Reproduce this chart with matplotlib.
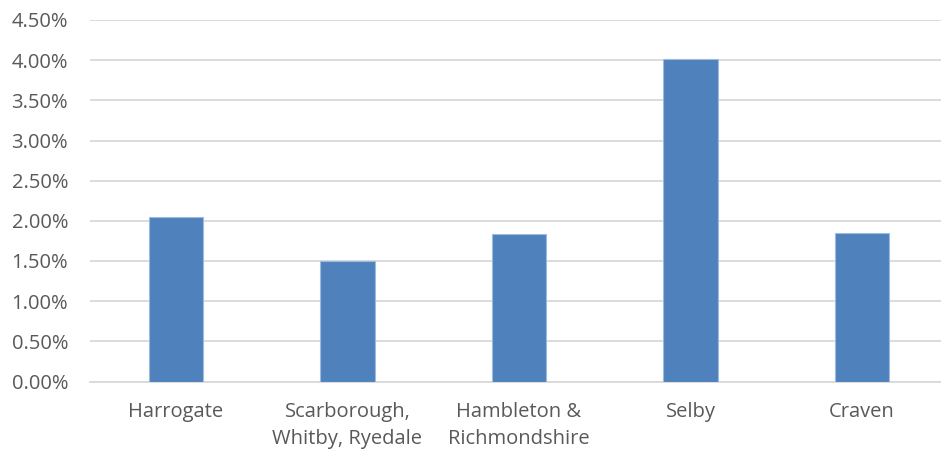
import matplotlib
matplotlib.use('Agg')
import matplotlib.pyplot as plt
from matplotlib.ticker import FuncFormatter, MultipleLocator

plt.rcParams['font.family'] = ['Open Sans', 'DejaVu Sans']

areas = ['Harrogate', 'Scarborough,\nWhitby, Ryedale', 'Hambleton &\nRichmondshire', 'Selby', 'Craven']
rates = [0.0205, 0.0150, 0.0183, 0.0401, 0.0185]

fig = plt.figure(figsize=(9.41, 4.54), dpi=100)
# plot area runs off the right edge of the canvas
ax = fig.add_axes([90.25 / 941, 1 - 381.5 / 454, 857.5 / 941, 361.5 / 454])

x = range(len(areas))
ax.bar(x, rates, width=0.315, color='#4f81bd', edgecolor='#9dbbe0', linewidth=0.8, zorder=3)

ax.set_ylim(0, 0.045)
ax.set_xlim(-0.5, len(areas) - 0.5)
ax.yaxis.set_major_locator(MultipleLocator(0.005))
ax.yaxis.set_major_formatter(FuncFormatter(lambda v, _: f'{v * 100:.2f}%'))
ax.grid(axis='y', color='#d9d9d9', linewidth=1.3, zorder=0)

ax.set_xticks(list(x))
ax.set_xticklabels(areas, linespacing=1.45)
for spine in ['top', 'right', 'left']:
    ax.spines[spine].set_visible(False)
ax.spines['bottom'].set_color('#d9d9d9')
ax.spines['bottom'].set_linewidth(1.3)
ax.tick_params(axis='both', length=0, labelsize=14.5, colors='#595959')
ax.tick_params(axis='x', pad=15)
ax.tick_params(axis='y', pad=16)

plt.savefig('out.png', dpi=100)
plt.close()
